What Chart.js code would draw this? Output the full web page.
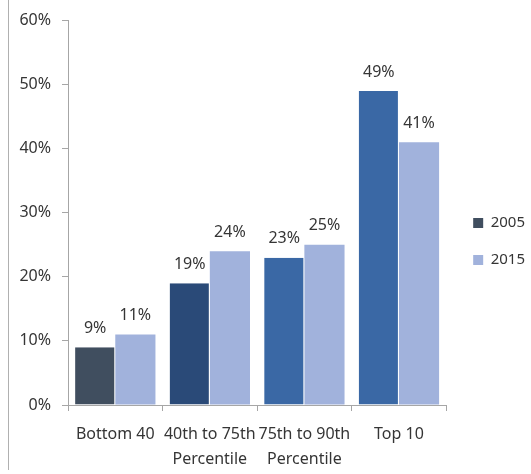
<!DOCTYPE html>
<html>
<head>
<meta charset="utf-8">
<script src="https://cdn.jsdelivr.net/npm/chart.js@4.4.1/dist/chart.umd.min.js"></script>
<style>
  html, body { margin: 0; padding: 0; background: #fff; }
  #wrap { position: relative; width: 531px; height: 474px; }
  #edge { position: absolute; left: 8px; top: 0; height: 470px; border-left: 1px solid #b0b0b0; }
</style>
</head>
<body>
<div id="wrap">
  <div id="edge"></div>
  <canvas id="grafico" width="531" height="474"></canvas>
</div>
<script>
// dados
var categorias = ['Bottom 40', ['40th to 75th', 'Percentile'], ['75th to 90th', 'Percentile'], 'Top 10'];
var valores2005 = [9, 19, 23, 49];
var valores2015 = [11, 24, 25, 41];
var ticksY = [0, 10, 20, 30, 40, 50, 60];

var cores2005 = ['#404e5f', '#2a4a78', '#3a68a5', '#3a68a5'];
var cor2015 = '#a1b2dc';
var corTexto = '#353535';
var fonte = "'Noto Sans', sans-serif";

// rotulos em cima das barras
var rotulosPlugin = {
    id: 'rotulos',
    afterLayout: function (chart) {
        // empurra a legenda um pouco pra direita e pra cima
        chart.legend.left += 5;
        chart.legend.right += 5;
        chart.legend.top -= 5;
        chart.legend.bottom -= 5;
    },
    afterDatasetsDraw: function (chart) {
        var ctx = chart.ctx;
        ctx.save();
        ctx.font = '16px ' + fonte;
        ctx.fillStyle = corTexto;
        ctx.textAlign = 'center';
        ctx.textBaseline = 'bottom';
        chart.data.datasets.forEach(function (ds, i) {
            chart.getDatasetMeta(i).data.forEach(function (bar, j) {
                ctx.fillText(ds.data[j] + '%', bar.x, bar.y - 11);
            });
        });
        ctx.restore();
    }
};

var ctx = document.getElementById('grafico').getContext('2d');

var grafico = new Chart(ctx, {
    type: 'bar',
    data: {
        labels: categorias,
        datasets: [
            {
                label: '2005',
                data: valores2005,
                backgroundColor: cores2005,
                borderColor: '#ffffff',
                borderWidth: { left: 0, right: 1, top: 0, bottom: 0 },
                categoryPercentage: 0.85,
                barPercentage: 1.0
            },
            {
                label: '2015',
                data: valores2015,
                backgroundColor: cor2015,
                borderColor: '#ffffff',
                borderWidth: 0,
                categoryPercentage: 0.85,
                barPercentage: 1.0
            }
        ]
    },
    options: {
        responsive: false,
        animation: false,
        layout: {
            padding: { top: 19, left: 0, right: 1, bottom: 0 }
        },
        scales: {
            x: {
                grid: {
                    display: true,
                    drawOnChartArea: false,
                    offset: true,
                    tickLength: 6,
                    color: '#a6a6a6'
                },
                border: { color: '#a6a6a6' },
                ticks: {
                    color: corTexto,
                    font: { family: fonte, size: 16, lineHeight: 1.55 },
                    maxRotation: 0,
                    autoSkip: false,
                    padding: 11
                },
                afterFit: function (scale) { scale.height = 69; }
            },
            y: {
                min: 0,
                max: 60,
                afterBuildTicks: function (scale) {
                    scale.ticks = ticksY.map(function (v) { return { value: v }; });
                },
                grid: {
                    display: true,
                    drawOnChartArea: false,
                    tickLength: 6,
                    color: '#a6a6a6'
                },
                border: { color: '#a6a6a6' },
                ticks: {
                    color: corTexto,
                    font: { family: fonte, size: 16 },
                    padding: 11,
                    callback: function (v) { return v + '%'; }
                },
                afterFit: function (scale) { scale.width = 68; }
            }
        },
        plugins: {
            legend: {
                position: 'right',
                align: 'center',
                labels: {
                    color: corTexto,
                    font: { family: fonte, size: 15 },
                    boxWidth: 10,
                    boxHeight: 10,
                    padding: 22,
                    generateLabels: function (chart) {
                        return [
                            { text: '2005', fillStyle: cores2005[0], strokeStyle: cores2005[0], lineWidth: 0, datasetIndex: 0, fontColor: corTexto },
                            { text: '2015', fillStyle: cor2015, strokeStyle: cor2015, lineWidth: 0, datasetIndex: 1, fontColor: corTexto }
                        ];
                    }
                }
            },
            tooltip: { enabled: false }
        }
    },
    plugins: [rotulosPlugin]
});
</script>
</body>
</html>
